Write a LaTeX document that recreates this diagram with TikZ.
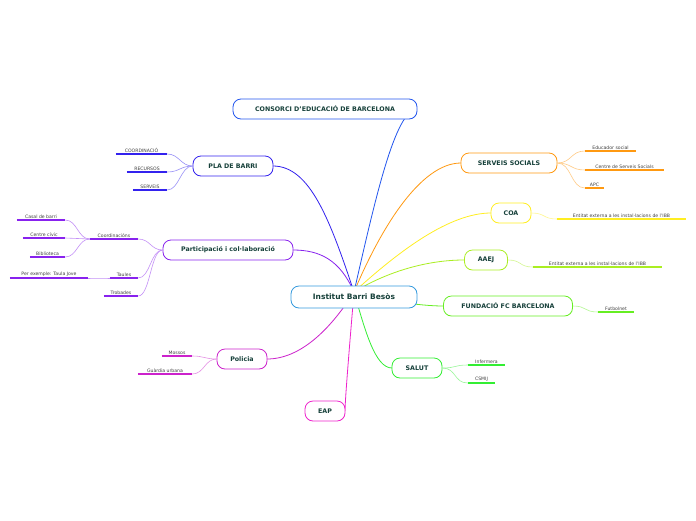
\documentclass[tikz,border=0pt]{standalone}
\usepackage{fontspec}
\setmainfont{DejaVu Sans}
\begin{document}
\begin{tikzpicture}[x=1pt,y=-1pt,
  main/.style={draw, rounded corners=8pt, line width=0.8pt, fill=white, text=txt, font=\fontsize{6.3}{7}\selectfont\bfseries, minimum height=20pt, inner sep=0pt},
  lf/.style={anchor=south, inner sep=1.5pt, font=\fontsize{4.6}{5}\selectfont, text=black!75},
  con/.style={line width=0.8pt}, sub/.style={line width=0.6pt}]
\definecolor{txt}{HTML}{16403A}
\definecolor{cb}{HTML}{2255EE}\definecolor{cp}{HTML}{3322EE}\definecolor{cq}{HTML}{8822EE}
\definecolor{cpol}{HTML}{CC22CC}\definecolor{ceap}{HTML}{EE22CC}\definecolor{co}{HTML}{FF9911}
\definecolor{cy}{HTML}{FFEE22}\definecolor{ca}{HTML}{AAEE22}\definecolor{cf}{HTML}{66EE22}\definecolor{cs}{HTML}{33EE33}
\definecolor{cc}{HTML}{3399DD}
\useasboundingbox[fill=white] (0,0) rectangle (696,520);
\coordinate (o) at (354,292);
% main connectors
\draw[con,cb] (o) .. controls (375,200) and (395,110) .. (417,109);
\draw[con,cp] (o) .. controls (330,220) and (310,166) .. (273,166);
\draw[con,cq] (o) .. controls (340,260) and (320,250) .. (293,250);
\draw[con,cpol] (o) .. controls (330,330) and (300,359) .. (267,359);
\draw[con,ceap] (o) .. controls (350,340) and (345,400) .. (345,411);
\draw[con,co] (o) .. controls (380,230) and (420,163) .. (461,163);
\draw[con,cy] (o) .. controls (400,250) and (450,213) .. (491,213);
\draw[con,ca] (o) .. controls (390,270) and (430,260) .. (464,260);
\draw[con,cf] (o) .. controls (380,300) and (420,306) .. (443,306);
\draw[con,cs] (o) .. controls (365,330) and (375,368) .. (392,368);
% main nodes
\node[main, draw=cb, minimum width=184pt] (cons) at (325,109) {CONSORCI D'EDUCACIÓ DE BARCELONA};
\node[main, draw=cp, minimum width=80pt] (pla) at (233,166) {PLA DE BARRI};
\node[main, draw=cq, minimum width=130pt] (part) at (228,250) {Participació i col·laboració};
\node[main, draw=cpol, minimum width=50pt] (pol) at (242,359) {Policia};
\node[main, draw=ceap, minimum width=40pt] (eap) at (325,411) {EAP};
\node[main, draw=co, minimum width=96pt] (ss) at (509,163) {SERVEIS SOCIALS};
\node[main, draw=cy, minimum width=40pt] (coa) at (511,213) {COA};
\node[main, draw=ca, minimum width=43pt] (aaej) at (486,260) {AAEJ};
\node[main, draw=cf, minimum width=129pt] (fcb) at (508,306) {FUNDACIÓ FC BARCELONA};
\node[main, draw=cs, minimum width=50pt] (sal) at (417,368) {SALUT};
\node[main, draw=cc, minimum width=126pt, minimum height=22pt, font=\fontsize{7.5}{8}\selectfont\bfseries] (ctr) at (354,297) {Institut Barri Besòs};
\newcommand\leafL[7]{\node[lf, minimum width=#4-#3] (#1) at ({(#3+#4)/2},#5) {\hfill #6};
 \draw[line width=1.1pt,#2] (#1.south west)--(#1.south east);
 \draw[sub,#2!50] (#1.south east) .. controls +(12,0) and +(-12,0) .. (#7);}
\newcommand\leafR[7]{\node[lf, minimum width=#4-#3] (#1) at ({(#3+#4)/2},#5) {#6\hfill};
 \draw[line width=1.1pt,#2] (#1.south west)--(#1.south east);
 \draw[sub,#2!50] (#1.south west) .. controls +(-14,0) and +(14,0) .. (#7);}
\leafL{l1}{cp}{116}{167}{154}{COORDINACIÓ}{pla.west}
\leafL{l2}{cp}{127}{167}{172}{RECURSOS}{pla.west}
\leafL{l3}{cp}{133}{167}{190}{SERVEIS}{pla.west}
\leafL{l4}{cq}{90}{138}{239}{Coordinacións}{part.west}
\leafL{l5}{cq}{110}{138}{278}{Taules}{part.west}
\leafL{l6}{cq}{104}{138}{296}{Trobades}{part.west}
\leafL{l7}{cq}{17}{65}{220}{Casal de barri}{l4.south west}
\leafL{l8}{cq}{23}{65}{238}{Centre cívic}{l4.south west}
\leafL{l9}{cq}{30}{65}{257}{Biblioteca}{l4.south west}
\leafL{l10}{cq}{10}{88}{278}{Per exemple: Taula Jove}{l5.south west}
\leafL{l11}{cpol}{162}{192}{356}{Mossos}{pol.west}
\leafL{l12}{cpol}{138}{192}{374}{Guàrdia urbana}{pol.west}
\leafR{r1}{co}{585}{636}{151}{Educador social}{ss.east}
\leafR{r2}{co}{585}{664}{170}{Centre de Serveis Socials}{ss.east}
\leafR{r3}{co}{585}{604}{188}{APC}{ss.east}
\leafR{r4}{cy}{557}{686}{219}{Entitat externa a les instal·lacions de l'IBB}{coa.east}
\leafR{r5}{ca}{533}{662}{267}{Entitat externa a les instal·lacions de l'IBB}{aaej.east}
\leafR{r6}{cf}{598}{634}{312}{Futbolnet}{fcb.east}
\leafR{r7}{cs}{468}{505}{365}{Infermera}{sal.east}
\leafR{r8}{cs}{468}{495}{383}{CSMIJ}{sal.east}
\end{tikzpicture}
\end{document}
